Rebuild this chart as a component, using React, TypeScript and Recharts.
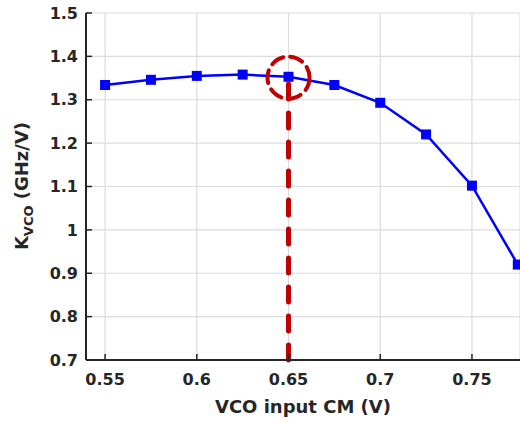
import { LineChart, Line, XAxis, YAxis, CartesianGrid, ReferenceLine, ReferenceDot, Label } from 'recharts'

const cmVoltage = [0.55, 0.575, 0.6, 0.625, 0.65, 0.675, 0.7, 0.725, 0.75, 0.775]
const kvco = [1.334, 1.346, 1.355, 1.358, 1.353, 1.334, 1.293, 1.22, 1.102, 0.92]
const xTicks = [0.55, 0.6, 0.65, 0.7, 0.75]
const yTicks = [0.7, 0.8, 0.9, 1, 1.1, 1.2, 1.3, 1.4, 1.5]
const markX = 0.65
const markY = 1.351

const data = cmVoltage.map((v, i) => ({ v, k: kvco[i] }))

const ink = '#262626'
const red = '#c00000'
const font = 'DejaVu Sans, Verdana, sans-serif'
const tickStyle = { fill: ink, fontSize: 16, fontWeight: 'bold', fontFamily: font }

const SquareDot = (props: any) => {
  const { cx, cy, index } = props
  if (cx == null || cy == null) return null
  return <rect key={index} x={cx - 5} y={cy - 5} width={10} height={10} fill="#0000ff" />
}

const renderYLabel = () => (
  <text
    transform="translate(28,186) rotate(-90)"
    textAnchor="middle"
    fill={ink}
    fontSize={18}
    fontWeight="bold"
    fontFamily={font}
  >
    <tspan>K</tspan>
    <tspan fontSize={13} dy={5}>VCO</tspan>
    <tspan dy={-5}>{' (GHz/V)'}</tspan>
  </text>
)

export default function App() {
  return (
    <div>
      <style>{'body{margin:0}'}</style>
      <LineChart width={520} height={422} data={data} margin={{ top: 13, right: 0, bottom: 0, left: 0 }}>
        <CartesianGrid stroke="#dcdcdc" strokeWidth={1.2} />
        <XAxis
          dataKey="v"
          type="number"
          domain={[0.5396, 0.7762]}
          allowDataOverflow
          ticks={xTicks}
          height={62}
          tickSize={-6}
          tickMargin={20}
          tick={tickStyle}
          axisLine={{ stroke: ink, strokeWidth: 2 }}
          tickLine={{ stroke: ink, strokeWidth: 1.5 }}
        >
          <Label
            value="VCO input CM (V)"
            position="insideBottom"
            offset={9}
            fill={ink}
            fontSize={18}
            fontWeight="bold"
            fontFamily={font}
          />
        </XAxis>
        <XAxis
          xAxisId="top"
          orientation="top"
          dataKey="v"
          type="number"
          domain={[0.5396, 0.7762]}
          allowDataOverflow
          ticks={xTicks}
          height={0}
          tick={false}
          tickSize={-6}
          axisLine={{ stroke: ink, strokeWidth: 2 }}
          tickLine={{ stroke: ink, strokeWidth: 1.5 }}
        />
        <YAxis
          type="number"
          domain={[0.7, 1.5]}
          ticks={yTicks}
          width={86}
          tickSize={-6}
          tickMargin={14}
          tick={tickStyle}
          tickFormatter={(v: number) => String(Math.round(v * 10) / 10)}
          axisLine={{ stroke: ink, strokeWidth: 2 }}
          tickLine={{ stroke: ink, strokeWidth: 1.5 }}
        >
          <Label content={renderYLabel} />
        </YAxis>
        <ReferenceLine
          segment={[{ x: markX, y: 0.7 }, { x: markX, y: 1.35 }]}
          stroke={red}
          strokeWidth={5}
          strokeDasharray="15 14"
          strokeLinecap="round"
        />
        <Line
          dataKey="k"
          stroke="#0000ff"
          strokeWidth={2.5}
          dot={SquareDot}
          activeDot={false}
          isAnimationActive={false}
        />
        <ReferenceDot
          x={markX}
          y={markY}
          r={21}
          fill="none"
          stroke={red}
          strokeWidth={4}
          strokeDasharray="13 7"
          strokeLinecap="round"
        />
      </LineChart>
    </div>
  )
}
